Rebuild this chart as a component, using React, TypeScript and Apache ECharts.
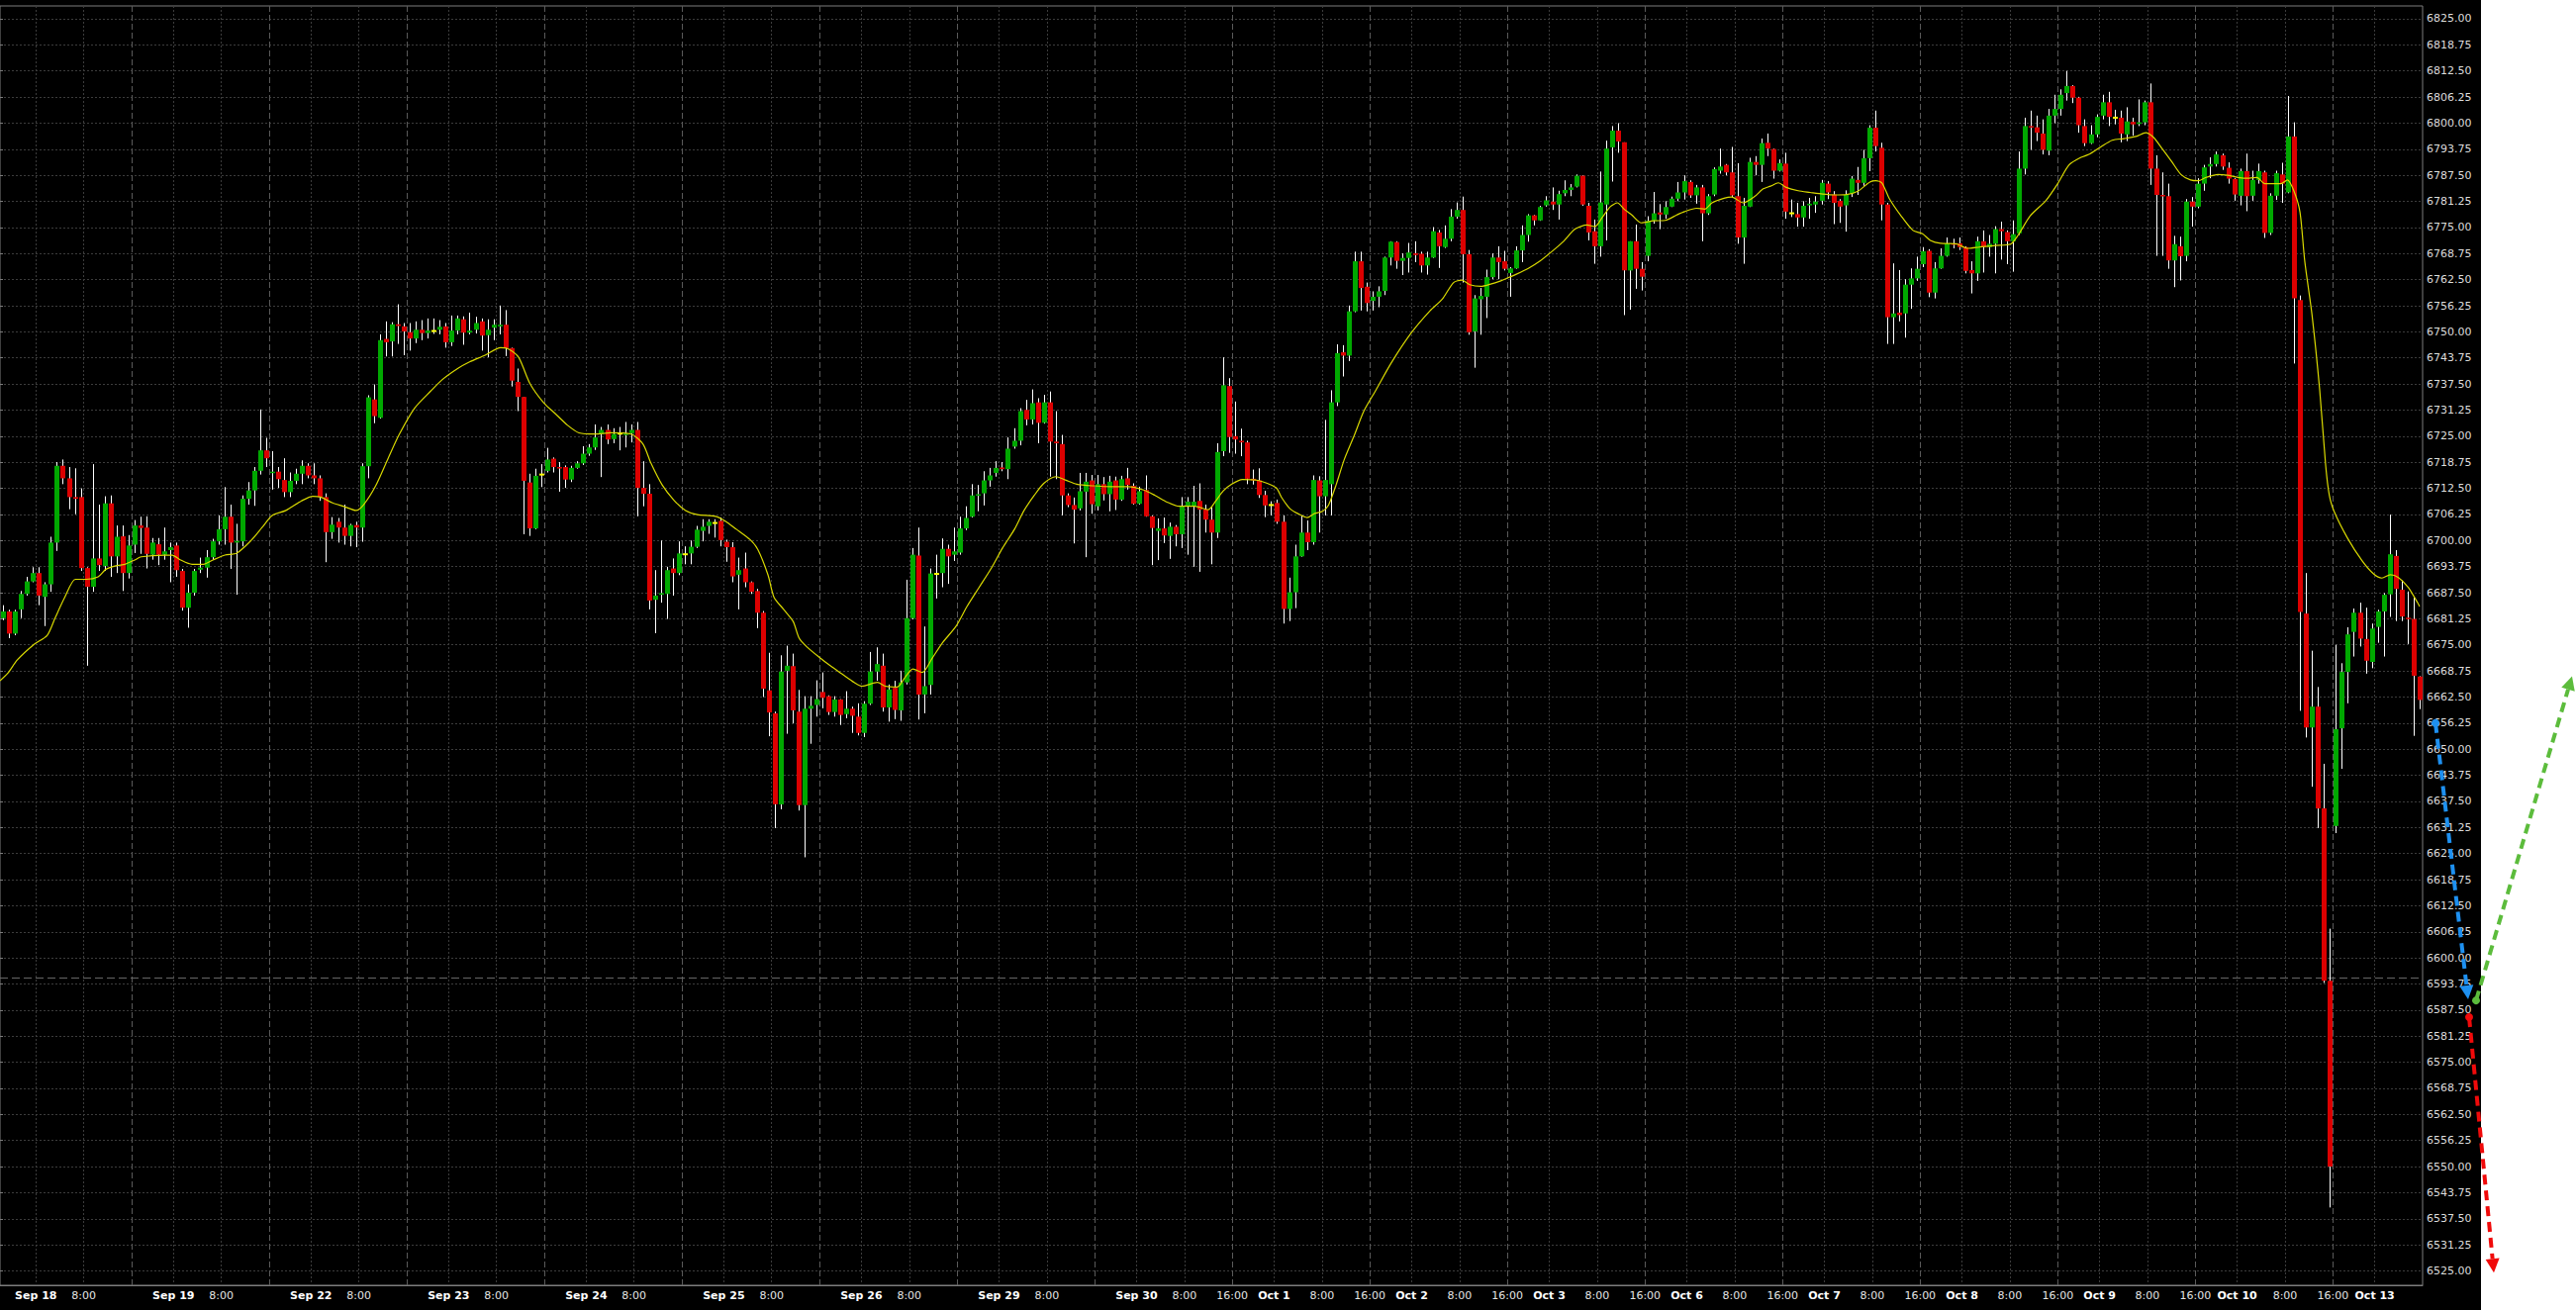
import React, { useEffect, useRef } from 'react';
import * as echarts from 'echarts';

// ---- categories: hourly bars of the ES session (17:00 -> 15:00, 23 bars per trading day)
const DAYS = ['Sep 18', 'Sep 19', 'Sep 22', 'Sep 23', 'Sep 24', 'Sep 25', 'Sep 26', 'Sep 29', 'Sep 30',
  'Oct 1', 'Oct 2', 'Oct 3', 'Oct 6', 'Oct 7', 'Oct 8', 'Oct 9', 'Oct 10', 'Oct 13'];
const SESSION_HOURS = [17, 18, 19, 20, 21, 22, 23, 0, 1, 2, 3, 4, 5, 6, 7, 8, 9, 10, 11, 12, 13, 14, 15];
const FIRST_BAR_SLOT = 1; // first bar on the chart is the 18:00 bar of the Sep 18 session
const SHOW_16_FROM = 'Sep 30';

// ---- OHLC values
const OPEN = [
  6681.4, 6683.0, 6677.7, 6683.5, 6687.2, 6690.2, 6692.2, 6686.5, 6689.5, 6699.5,
  6717.9, 6714.9, 6710.4, 6710.4, 6693.4, 6688.9, 6695.7, 6693.9, 6708.9, 6696.2,
  6701.0, 6692.2, 6699.0, 6703.6, 6703.1, 6696.6, 6699.1, 6696.6, 6697.7, 6698.8,
  6692.7, 6683.9, 6687.5, 6693.0, 6693.5, 6696.0, 6699.8, 6702.7, 6705.7, 6699.5,
  6699.8, 6710.0, 6712.0, 6716.7, 6721.6, 6716.2, 6716.5, 6714.5, 6711.6, 6714.3,
  6716.0, 6717.9, 6715.6, 6714.9, 6710.4, 6702.0, 6704.5, 6703.1, 6701.1, 6703.7,
  6703.1, 6717.8, 6733.8, 6729.4, 6748.3, 6747.7, 6751.8, 6751.3, 6749.9, 6748.4,
  6750.5, 6749.7, 6750.2, 6750.5, 6751.3, 6747.5, 6750.3, 6753.0, 6749.8, 6750.5,
  6752.5, 6749.2, 6751.0, 6751.3, 6751.7, 6746.1, 6738.0, 6734.4, 6713.9, 6702.9,
  6715.8, 6716.7, 6719.6, 6717.6, 6717.6, 6714.6, 6717.4, 6718.5, 6720.8, 6722.3,
  6725.6, 6726.5, 6724.3, 6725.6, 6725.4, 6725.7, 6726.5, 6712.6, 6711.2, 6685.8,
  6687.0, 6687.2, 6693.3, 6692.2, 6696.7, 6696.9, 6698.5, 6702.3, 6703.5, 6704.2,
  6704.7, 6699.7, 6698.4, 6691.8, 6693.3, 6690.0, 6687.9, 6682.7, 6664.1, 6658.6,
  6636.8, 6668.8, 6669.9, 6659.0, 6636.6, 6659.7, 6660.6, 6663.7, 6662.7, 6658.9,
  6661.9, 6658.4, 6659.7, 6657.8, 6653.9, 6660.9, 6668.6, 6670.0, 6660.0, 6664.7,
  6659.3, 6666.0, 6681.4, 6696.4, 6663.1, 6665.4, 6692.0, 6692.2, 6698.0, 6696.6,
  6697.1, 6702.9, 6705.7, 6710.8, 6711.3, 6714.4, 6716.2, 6717.5, 6717.1, 6722.5,
  6723.9, 6731.3, 6729.0, 6733.1, 6728.2, 6733.1, 6723.7, 6723.1, 6710.8, 6708.5,
  6707.7, 6711.7, 6714.4, 6708.2, 6713.5, 6711.1, 6714.4, 6709.8, 6714.9, 6713.1,
  6708.8, 6712.1, 6705.8, 6702.3, 6702.9, 6701.1, 6703.3, 6701.5, 6708.2, 6708.2,
  6709.5, 6707.4, 6705.0, 6701.9, 6721.4, 6737.0, 6725.0, 6723.9, 6723.5, 6714.8,
  6714.4, 6710.9, 6708.5, 6709.0, 6704.5, 6683.6, 6687.6, 6696.2, 6701.9, 6699.6,
  6714.4, 6710.6, 6713.5, 6733.1, 6745.1, 6744.3, 6754.9, 6766.9, 6760.8, 6757.4,
  6758.4, 6759.8, 6767.8, 6771.5, 6767.0, 6767.7, 6768.8, 6768.7, 6765.9, 6767.8,
  6773.8, 6770.3, 6772.3, 6777.6, 6779.2, 6768.6, 6750.1, 6757.8, 6758.4, 6763.1,
  6767.8, 6766.9, 6764.1, 6765.2, 6769.5, 6773.2, 6777.9, 6776.7, 6780.3, 6781.2,
  6780.5, 6783.2, 6784.0, 6784.8, 6787.4, 6780.2, 6774.1, 6770.5, 6780.5, 6794.2,
  6798.2, 6795.4, 6764.7, 6771.7, 6765.1, 6768.2, 6776.7, 6778.6, 6778.1, 6780.0,
  6781.9, 6783.4, 6785.9, 6782.7, 6784.6, 6778.4, 6782.9, 6788.6, 6790.0, 6788.2,
  6782.5, 6772.6, 6780.0, 6790.7, 6790.0, 6795.3, 6793.8, 6788.6, 6790.3, 6778.4,
  6778.2, 6777.4, 6780.3, 6780.5, 6781.4, 6785.5, 6782.9, 6781.4, 6780.3, 6783.2,
  6786.4, 6785.7, 6791.6, 6798.9, 6794.1, 6780.5, 6753.5, 6754.6, 6754.4, 6761.3,
  6762.8, 6766.2, 6769.4, 6759.4, 6765.2, 6768.2, 6771.2, 6771.2, 6770.3, 6764.8,
  6764.0, 6771.7, 6770.3, 6771.1, 6774.6, 6773.9, 6771.7, 6773.6, 6789.1, 6799.3,
  6799.0, 6797.5, 6793.4, 6801.8, 6803.4, 6807.2, 6808.9, 6806.1, 6799.3, 6795.2,
  6797.3, 6801.8, 6805.0, 6801.3, 6801.3, 6797.3, 6800.3, 6799.8, 6800.2, 6805.0,
  6789.1, 6782.8, 6782.5, 6767.1, 6770.5, 6768.2, 6781.2, 6780.0, 6785.5, 6789.6,
  6790.2, 6792.3, 6789.3, 6786.6, 6782.6, 6788.5, 6782.6, 6786.4, 6788.2, 6773.7,
  6782.6, 6787.7, 6783.4, 6796.8, 6757.6, 6682.5, 6655.2, 6660.2, 6635.8, 6594.5,
  6631.6, 6655.0, 6668.5, 6678.1, 6682.7, 6676.4, 6670.9, 6679.3, 6683.0, 6687.1,
  6696.3, 6688.2, 6681.5, 6681.2, 6667.4
];
const HIGH = [
  6684.5, 6683.4, 6683.4, 6687.9, 6691.3, 6693.6, 6693.6, 6690.0, 6700.9, 6718.8,
  6719.4, 6717.6, 6717.3, 6712.5, 6693.6, 6718.3, 6708.6, 6710.6, 6710.8, 6703.6,
  6703.6, 6701.3, 6704.9, 6705.7, 6705.8, 6700.6, 6700.6, 6703.1, 6699.5, 6699.5,
  6693.2, 6689.5, 6693.2, 6695.9, 6697.7, 6700.4, 6706.0, 6712.8, 6708.6, 6704.0,
  6710.8, 6714.0, 6717.6, 6731.4, 6724.6, 6721.4, 6717.6, 6719.7, 6716.3, 6717.2,
  6719.2, 6718.5, 6718.5, 6715.6, 6711.3, 6705.6, 6705.4, 6708.6, 6704.0, 6704.5,
  6718.5, 6734.8, 6737.4, 6749.4, 6752.5, 6752.3, 6756.6, 6752.1, 6752.1, 6752.5,
  6752.8, 6753.2, 6753.2, 6752.8, 6752.1, 6753.9, 6753.9, 6753.7, 6754.6, 6753.6,
  6753.2, 6753.0, 6753.0, 6756.3, 6755.2, 6746.2, 6741.2, 6734.4, 6716.0, 6717.2,
  6718.3, 6722.2, 6719.9, 6718.8, 6718.0, 6717.9, 6719.0, 6722.6, 6723.1, 6727.8,
  6727.2, 6727.8, 6726.9, 6727.2, 6728.4, 6727.8, 6728.4, 6719.0, 6713.5, 6692.9,
  6700.0, 6693.7, 6695.7, 6699.8, 6698.6, 6700.0, 6703.5, 6705.1, 6705.1, 6705.1,
  6705.5, 6700.2, 6699.6, 6695.9, 6697.1, 6690.2, 6688.4, 6683.1, 6673.1, 6659.0,
  6672.5, 6674.8, 6672.9, 6664.2, 6662.7, 6662.7, 6666.5, 6668.4, 6662.9, 6662.7,
  6662.0, 6663.9, 6660.2, 6661.0, 6661.5, 6673.3, 6674.4, 6672.9, 6665.5, 6666.4,
  6668.8, 6690.6, 6698.2, 6703.1, 6679.4, 6693.3, 6696.6, 6700.5, 6699.0, 6703.1,
  6705.7, 6708.2, 6713.5, 6713.3, 6716.6, 6717.4, 6719.0, 6718.8, 6724.7, 6726.9,
  6731.7, 6733.7, 6736.2, 6734.1, 6734.9, 6735.7, 6731.0, 6725.3, 6711.3, 6710.3,
  6716.2, 6716.2, 6715.7, 6715.7, 6715.2, 6715.5, 6715.3, 6715.5, 6717.4, 6713.7,
  6712.9, 6715.6, 6706.0, 6705.3, 6705.5, 6704.3, 6703.7, 6710.4, 6710.4, 6713.1,
  6713.7, 6708.6, 6708.0, 6723.3, 6743.9, 6738.9, 6733.3, 6726.8, 6723.9, 6717.0,
  6717.3, 6711.9, 6709.4, 6709.8, 6706.0, 6691.1, 6699.0, 6706.0, 6704.8, 6715.6,
  6715.4, 6728.9, 6736.0, 6747.0, 6746.8, 6756.3, 6769.2, 6769.2, 6761.8, 6759.7,
  6760.9, 6768.0, 6771.7, 6771.7, 6768.8, 6771.3, 6771.7, 6769.2, 6769.2, 6775.1,
  6774.4, 6775.5, 6779.4, 6781.0, 6782.4, 6769.6, 6758.8, 6760.5, 6764.9, 6768.8,
  6770.5, 6769.4, 6765.5, 6770.5, 6775.5, 6778.2, 6778.0, 6780.2, 6782.5, 6784.6,
  6783.8, 6786.3, 6785.4, 6787.7, 6787.5, 6780.9, 6776.9, 6788.4, 6795.8, 6799.3,
  6800.0, 6795.4, 6771.7, 6775.7, 6766.7, 6777.7, 6783.5, 6780.6, 6781.3, 6782.4,
  6785.9, 6787.5, 6786.3, 6785.2, 6785.2, 6783.0, 6789.4, 6793.9, 6790.2, 6794.3,
  6790.4, 6782.1, 6791.7, 6792.1, 6796.3, 6797.5, 6793.9, 6791.3, 6792.9, 6781.7,
  6780.9, 6781.3, 6782.1, 6782.5, 6786.4, 6786.1, 6783.7, 6781.8, 6783.9, 6787.3,
  6789.5, 6793.6, 6799.5, 6803.0, 6795.3, 6780.9, 6766.4, 6764.8, 6762.6, 6765.2,
  6768.0, 6770.3, 6769.8, 6766.7, 6770.0, 6772.6, 6772.3, 6772.6, 6770.5, 6766.9,
  6772.8, 6774.3, 6773.2, 6775.3, 6776.4, 6774.3, 6776.7, 6793.2, 6801.3, 6803.0,
  6801.8, 6800.9, 6803.4, 6806.8, 6808.1, 6812.5, 6809.1, 6806.3, 6800.9, 6799.5,
  6802.1, 6806.8, 6807.5, 6803.2, 6803.0, 6803.8, 6801.3, 6805.7, 6805.4, 6809.5,
  6792.3, 6788.2, 6785.5, 6773.0, 6772.8, 6781.8, 6782.3, 6786.8, 6790.0, 6791.8,
  6793.2, 6792.7, 6790.6, 6786.8, 6789.1, 6792.7, 6788.6, 6790.3, 6788.6, 6783.2,
  6788.6, 6790.5, 6806.5, 6800.2, 6758.7, 6692.2, 6673.6, 6664.9, 6646.5, 6607.0,
  6675.0, 6670.6, 6679.2, 6683.7, 6685.1, 6683.9, 6680.1, 6683.4, 6687.4, 6706.2,
  6697.7, 6690.4, 6687.8, 6686.3, 6667.5
];
const LOW = [
  6680.9, 6676.6, 6677.3, 6681.4, 6686.8, 6690.0, 6684.5, 6679.5, 6687.7, 6697.5,
  6713.5, 6707.5, 6706.3, 6692.7, 6670.0, 6687.7, 6692.7, 6692.7, 6691.3, 6692.2,
  6687.9, 6690.9, 6697.0, 6696.8, 6693.3, 6695.4, 6694.1, 6695.4, 6690.0, 6691.3,
  6683.2, 6679.1, 6686.8, 6692.2, 6691.1, 6695.4, 6699.0, 6699.0, 6693.2, 6687.0,
  6698.6, 6708.6, 6708.3, 6715.8, 6717.6, 6712.2, 6712.6, 6710.4, 6710.4, 6713.5,
  6713.5, 6714.9, 6713.5, 6709.5, 6694.8, 6700.4, 6699.5, 6699.0, 6698.6, 6698.4,
  6699.7, 6714.9, 6728.1, 6729.2, 6744.1, 6744.1, 6747.1, 6744.4, 6745.5, 6747.3,
  6748.0, 6748.4, 6749.5, 6749.4, 6746.2, 6746.6, 6749.4, 6746.9, 6749.4, 6749.6,
  6745.5, 6743.9, 6748.0, 6749.4, 6744.2, 6736.9, 6731.0, 6701.5, 6701.1, 6702.7,
  6712.8, 6716.3, 6716.3, 6711.7, 6712.6, 6714.0, 6717.2, 6718.1, 6720.3, 6721.7,
  6715.2, 6723.1, 6723.3, 6721.6, 6722.3, 6723.5, 6705.8, 6708.2, 6683.5, 6677.8,
  6685.1, 6681.2, 6686.8, 6691.7, 6694.3, 6694.3, 6698.2, 6699.8, 6701.6, 6700.7,
  6698.6, 6694.9, 6690.0, 6683.5, 6688.8, 6687.2, 6679.0, 6662.5, 6653.1, 6631.1,
  6635.6, 6653.7, 6656.2, 6635.3, 6624.1, 6651.3, 6657.8, 6659.8, 6658.2, 6657.8,
  6655.8, 6657.4, 6653.9, 6653.3, 6652.9, 6660.6, 6666.4, 6659.0, 6656.6, 6657.2,
  6656.8, 6665.5, 6681.1, 6657.1, 6658.6, 6663.1, 6686.1, 6688.8, 6689.6, 6695.1,
  6696.6, 6702.5, 6705.5, 6707.0, 6708.4, 6712.9, 6715.3, 6716.6, 6714.7, 6722.0,
  6722.8, 6727.6, 6727.8, 6723.3, 6728.0, 6715.3, 6714.7, 6706.0, 6708.0, 6699.3,
  6707.2, 6696.0, 6706.4, 6707.2, 6709.6, 6707.0, 6707.3, 6709.5, 6712.2, 6708.6,
  6708.6, 6705.7, 6694.1, 6695.3, 6699.4, 6695.6, 6698.6, 6698.2, 6696.6, 6693.7,
  6692.5, 6701.9, 6694.3, 6700.6, 6720.2, 6721.0, 6720.8, 6720.2, 6713.5, 6713.4,
  6710.2, 6705.6, 6706.0, 6704.0, 6680.1, 6680.7, 6683.8, 6696.1, 6697.7, 6699.0,
  6701.9, 6706.0, 6706.0, 6732.2, 6739.3, 6743.0, 6754.7, 6755.1, 6754.9, 6755.1,
  6755.9, 6758.8, 6765.9, 6765.1, 6763.6, 6764.2, 6766.7, 6764.2, 6763.7, 6767.7,
  6765.3, 6770.1, 6771.7, 6777.1, 6761.8, 6749.3, 6741.4, 6749.3, 6753.3, 6762.6,
  6762.6, 6764.7, 6758.4, 6765.1, 6766.7, 6771.6, 6775.5, 6776.6, 6780.0, 6779.2,
  6776.9, 6782.5, 6782.5, 6784.6, 6780.2, 6771.9, 6766.3, 6768.0, 6771.9, 6786.0,
  6792.9, 6754.0, 6755.3, 6760.3, 6759.9, 6766.9, 6775.9, 6774.6, 6777.1, 6779.9,
  6781.3, 6781.7, 6782.1, 6780.7, 6771.7, 6778.0, 6782.5, 6787.9, 6787.5, 6782.3,
  6771.1, 6766.3, 6779.9, 6787.5, 6785.9, 6792.1, 6786.7, 6788.4, 6777.1, 6777.5,
  6775.2, 6775.2, 6777.1, 6778.5, 6780.5, 6781.8, 6775.8, 6776.1, 6774.0, 6782.3,
  6782.8, 6785.0, 6788.5, 6793.2, 6776.7, 6747.1, 6747.1, 6752.5, 6748.6, 6755.5,
  6762.2, 6765.5, 6758.3, 6758.0, 6765.1, 6768.0, 6770.0, 6769.6, 6764.0, 6759.2,
  6762.2, 6764.2, 6768.0, 6764.0, 6767.3, 6766.2, 6764.4, 6773.2, 6787.7, 6793.6,
  6795.7, 6792.5, 6792.3, 6800.0, 6801.8, 6805.4, 6804.8, 6797.7, 6794.5, 6795.0,
  6796.6, 6800.9, 6799.3, 6799.7, 6795.4, 6795.7, 6797.0, 6799.3, 6799.5, 6785.2,
  6768.2, 6768.2, 6765.1, 6760.7, 6762.3, 6766.9, 6775.2, 6779.6, 6783.8, 6786.8,
  6789.6, 6788.8, 6785.5, 6781.4, 6780.3, 6778.9, 6781.4, 6785.5, 6772.5, 6773.2,
  6781.6, 6780.9, 6783.2, 6742.4, 6659.2, 6652.8, 6641.0, 6631.1, 6594.0, 6540.2,
  6629.9, 6645.3, 6661.0, 6672.2, 6674.6, 6668.1, 6669.4, 6675.5, 6672.2, 6681.7,
  6680.7, 6680.7, 6675.2, 6653.2, 6659.6
];
const CLOSE = [
  6683.0, 6677.7, 6683.0, 6687.2, 6690.2, 6692.2, 6686.8, 6689.5, 6699.5, 6717.9,
  6714.9, 6710.4, 6710.0, 6693.4, 6688.9, 6695.7, 6694.1, 6708.9, 6696.2, 6700.9,
  6692.2, 6698.8, 6703.6, 6703.0, 6696.8, 6699.5, 6696.6, 6697.4, 6698.4, 6692.9,
  6683.9, 6687.5, 6692.7, 6693.5, 6696.0, 6699.8, 6702.7, 6705.7, 6699.5, 6699.9,
  6710.0, 6712.0, 6716.7, 6721.6, 6719.7, 6716.5, 6714.7, 6711.6, 6714.3, 6716.0,
  6717.9, 6715.6, 6714.9, 6710.4, 6702.0, 6703.8, 6703.1, 6701.1, 6703.7, 6703.1,
  6717.8, 6734.3, 6729.8, 6748.0, 6747.5, 6751.8, 6751.4, 6750.1, 6748.4, 6750.5,
  6749.7, 6750.3, 6750.2, 6751.2, 6747.5, 6750.3, 6753.2, 6749.8, 6750.3, 6752.1,
  6749.1, 6750.5, 6751.7, 6751.7, 6746.1, 6738.3, 6734.4, 6714.3, 6702.9, 6715.5,
  6715.8, 6719.4, 6717.6, 6717.4, 6714.6, 6717.4, 6718.5, 6720.8, 6722.3, 6724.7,
  6726.5, 6724.2, 6725.5, 6725.6, 6725.6, 6726.5, 6712.6, 6711.2, 6685.6, 6686.8,
  6687.4, 6692.9, 6692.2, 6696.9, 6696.7, 6698.5, 6702.6, 6703.3, 6704.5, 6704.2,
  6700.1, 6698.4, 6691.4, 6692.9, 6690.0, 6687.7, 6682.7, 6664.5, 6658.8, 6636.8,
  6668.6, 6670.0, 6659.3, 6636.6, 6659.7, 6660.4, 6662.0, 6662.3, 6658.9, 6661.9,
  6658.2, 6659.7, 6658.0, 6653.9, 6660.9, 6668.6, 6670.4, 6660.0, 6664.3, 6659.4,
  6666.0, 6681.4, 6696.6, 6663.1, 6665.1, 6692.1, 6692.0, 6698.0, 6696.2, 6697.4,
  6702.9, 6705.4, 6710.8, 6711.1, 6714.4, 6715.6, 6717.4, 6717.1, 6722.0, 6723.9,
  6731.0, 6729.0, 6732.9, 6728.2, 6733.1, 6723.7, 6723.3, 6710.8, 6708.5, 6707.4,
  6711.8, 6714.1, 6708.7, 6713.5, 6711.1, 6714.1, 6709.8, 6714.7, 6713.3, 6708.8,
  6711.8, 6705.8, 6703.0, 6702.9, 6701.2, 6703.3, 6701.5, 6708.2, 6709.3, 6709.3,
  6707.4, 6705.0, 6701.9, 6721.2, 6737.2, 6724.8, 6724.2, 6723.5, 6714.8, 6714.4,
  6710.9, 6708.4, 6708.5, 6704.5, 6683.6, 6687.6, 6696.2, 6701.9, 6699.6, 6714.5,
  6710.6, 6714.5, 6733.1, 6744.9, 6744.3, 6754.9, 6766.9, 6760.5, 6756.9, 6758.4,
  6759.7, 6767.8, 6771.6, 6767.0, 6767.7, 6769.0, 6768.4, 6765.9, 6767.8, 6774.1,
  6770.5, 6772.3, 6777.6, 6779.2, 6768.6, 6749.9, 6758.0, 6758.6, 6763.1, 6767.8,
  6766.7, 6765.1, 6765.2, 6769.5, 6773.2, 6777.9, 6776.7, 6779.9, 6781.5, 6780.5,
  6783.0, 6784.0, 6784.6, 6787.4, 6780.5, 6773.8, 6770.5, 6781.0, 6793.9, 6798.2,
  6795.6, 6764.7, 6771.7, 6765.1, 6763.2, 6776.6, 6778.4, 6778.1, 6779.9, 6781.9,
  6783.4, 6786.1, 6782.7, 6784.6, 6778.4, 6782.5, 6789.0, 6789.6, 6788.2, 6782.7,
  6772.6, 6780.2, 6790.7, 6790.0, 6795.2, 6793.9, 6788.6, 6790.4, 6778.8, 6778.4,
  6777.4, 6780.2, 6780.7, 6781.2, 6785.7, 6783.4, 6780.9, 6780.0, 6782.8, 6786.7,
  6785.7, 6791.6, 6798.9, 6794.5, 6780.5, 6753.5, 6754.4, 6754.0, 6761.3, 6762.8,
  6765.1, 6769.3, 6759.4, 6765.2, 6768.2, 6771.2, 6770.9, 6770.3, 6764.6, 6764.0,
  6771.7, 6770.3, 6771.1, 6774.6, 6774.1, 6771.7, 6773.4, 6789.1, 6799.3, 6799.0,
  6797.7, 6793.6, 6801.8, 6803.4, 6806.8, 6808.9, 6806.1, 6799.5, 6795.2, 6797.3,
  6801.5, 6805.0, 6801.5, 6801.3, 6797.5, 6800.4, 6799.7, 6800.2, 6805.0, 6789.1,
  6782.8, 6782.5, 6767.1, 6771.0, 6768.1, 6781.2, 6780.0, 6785.5, 6789.4, 6790.2,
  6792.5, 6789.6, 6786.7, 6782.9, 6788.5, 6782.5, 6786.4, 6788.5, 6773.7, 6782.6,
  6788.0, 6785.5, 6796.8, 6758.0, 6682.9, 6655.2, 6660.2, 6635.8, 6594.5, 6550.0,
  6654.8, 6668.5, 6677.5, 6682.7, 6676.5, 6671.2, 6678.9, 6683.0, 6687.0, 6696.7,
  6688.4, 6681.8, 6681.2, 6667.6, 6661.8
];

// ---- moving average: [bar index, value]
const MA_POINTS = [
  [-0.5, 6666.4], [0.8, 6668.2], [2.4, 6671.4], [5.1, 6675.0], [7.4, 6677.3], [8.7, 6681.4], [10.3, 6686.3],
  [12.1, 6690.7], [13.9, 6690.7], [15.9, 6691.3], [17.2, 6693.1], [19.1, 6694.0], [20.4, 6694.3], [22.1, 6695.4],
  [23.1, 6696.1], [27, 6696.5], [28.3, 6696.5], [29.6, 6695.4], [31.6, 6694.3], [33.5, 6694.3], [35.2, 6695.4],
  [37.1, 6696.5], [39.1, 6697.0], [41.4, 6699.9], [43.3, 6703.1], [45, 6706.0], [47.3, 6707.2], [49.9, 6709.5],
  [51.8, 6710.6], [53.1, 6710.4], [55.1, 6709.0], [57.1, 6708.1], [59, 6707.2], [60.3, 6708.6], [62.3, 6713.1],
  [64.3, 6719.4], [66.2, 6725.3], [68.8, 6731.7], [71.5, 6735.8], [73.4, 6738.5], [76, 6741.2], [78, 6742.8],
  [80.6, 6744.4], [83.2, 6746.2], [84.5, 6745.9], [86.2, 6743.9], [88.1, 6737.6], [90.4, 6733.0], [92.4, 6730.3],
  [94.4, 6727.6], [96.3, 6725.8], [99, 6725.5], [101.6, 6725.8], [105, 6725.5], [107, 6723.1], [108.3, 6718.6],
  [110.2, 6713.3], [112.2, 6709.6], [114.1, 6707.2], [116.1, 6706.2], [119.1, 6705.8], [120.7, 6704.7],
  [122.6, 6702.7], [124.9, 6700.2], [126.2, 6697.8], [127.9, 6691.7], [128.9, 6686.4], [130.5, 6683.5],
  [132.1, 6680.6], [133.1, 6676.6], [134.4, 6674.5], [136.4, 6672.1], [138.3, 6670.0], [140.3, 6668.0],
  [142.3, 6666.0], [143.6, 6665.1], [146.2, 6666.0], [147.5, 6665.1], [149.5, 6664.9], [150.8, 6667.2],
  [152.1, 6669.2], [153.7, 6668.4], [155.3, 6671.7], [157, 6675.4], [159.3, 6679.4], [161.2, 6684.3],
  [163.2, 6688.8], [165.2, 6693.3], [167.1, 6698.2], [169.1, 6702.7], [170.7, 6707.2], [172.4, 6710.8],
  [174, 6713.7], [176, 6715.3], [177.6, 6714.5], [179.5, 6713.5], [182.2, 6713.1], [185.4, 6712.9],
  [188.1, 6712.9], [190.7, 6712.1], [192.6, 6710.8], [194.6, 6709.2], [196.6, 6708.2], [199.2, 6708.2],
  [201.5, 6707.4], [202.7, 6709.4], [204, 6711.9], [205.3, 6713.4], [207.2, 6714.6], [209.8, 6714.4],
  [212.8, 6712.7], [213.8, 6710.2], [215.1, 6707.7], [216.4, 6706.5], [218, 6705.5], [219.3, 6706.5],
  [220.6, 6707.0], [221.6, 6708.5], [222.9, 6713.5], [224.2, 6719.3], [225.9, 6725.2], [227.5, 6731.0],
  [229.5, 6736.0], [232.1, 6742.6], [235.4, 6749.7], [238.6, 6755.1], [240.6, 6757.8], [242.5, 6761.8],
  [243.9, 6762.4], [245.2, 6761.3], [247.1, 6760.9], [248.4, 6761.3], [250.4, 6762.2], [251.7, 6763.0],
  [253, 6763.8], [255, 6765.2], [256.9, 6766.9], [258.9, 6769.2], [260.9, 6771.7], [262.8, 6774.6],
  [264.8, 6775.6], [266.1, 6775.2], [267.4, 6777.5], [268.7, 6780.0], [269.9, 6780.9], [271, 6779.4],
  [272.3, 6778.0], [273.9, 6776.1], [275.9, 6776.6], [277.9, 6776.7], [279.8, 6778.0], [281.1, 6778.8],
  [283.1, 6779.6], [284.5, 6779.4], [285.7, 6780.9], [287.7, 6782.0], [289, 6782.3], [290.9, 6780.9],
  [292.9, 6782.5], [294.2, 6784.2], [295.5, 6784.9], [296.8, 6785.7], [298.1, 6784.6], [300.1, 6783.8],
  [302.1, 6783.4], [304.2, 6783.0], [306.2, 6782.8], [308.2, 6782.9], [310.1, 6783.7], [312.1, 6785.9],
  [313.1, 6786.2], [314.1, 6785.7], [315.4, 6781.8], [317.3, 6777.8], [319.3, 6774.3], [320.9, 6773.5],
  [322.2, 6771.9], [323.9, 6771.2], [326.5, 6771.1], [328.4, 6770.0], [330.4, 6770.3], [333, 6770.7],
  [335.6, 6771.0], [336.9, 6773.2], [338.9, 6777.8], [341.5, 6781.4], [343.5, 6785.5], [345.4, 6790.0],
  [347.4, 6791.8], [348.7, 6792.5], [350.7, 6794.3], [352.6, 6795.9], [354.6, 6796.3], [356.6, 6796.8],
  [358.2, 6797.7], [359.5, 6796.6], [361.1, 6793.6], [362.5, 6790.9], [364.1, 6787.7], [365.7, 6786.4],
  [367, 6786.2], [368.3, 6787.0], [370.3, 6787.7], [371.9, 6787.5], [373.6, 6787.0], [375.5, 6786.8],
  [376.8, 6787.0], [378.1, 6785.5], [380.8, 6785.5], [381.9, 6786.4], [383, 6783.7], [384, 6778.7],
  [384.8, 6766.9], [386, 6754.2], [387.3, 6736.0], [388.3, 6717.9], [388.9, 6710.9], [389.7, 6707.0],
  [391.9, 6700.7], [394.4, 6695.1], [396.3, 6692.0], [397.7, 6691.0], [399.1, 6691.8], [400.4, 6691.2],
  [402.1, 6688.8], [403.7, 6685.0], [404, 6684.2]
];

// ---- price axis
const PRICE_TICKS = [6525, 6531.25, 6537.5, 6543.75, 6550, 6556.25, 6562.5, 6568.75, 6575, 6581.25, 6587.5,
  6593.75, 6600, 6606.25, 6612.5, 6618.75, 6625, 6631.25, 6637.5, 6643.75, 6650, 6656.25, 6662.5, 6668.75,
  6675, 6681.25, 6687.5, 6693.75, 6700, 6706.25, 6712.5, 6718.75, 6725, 6731.25, 6737.5, 6743.75, 6750,
  6756.25, 6762.5, 6768.75, 6775, 6781.25, 6787.5, 6793.75, 6800, 6806.25, 6812.5, 6818.75, 6825];
const Y_MIN = 6521.56;
const Y_MAX = 6828.08;
const REF_LEVEL = 6595.2;

// ---- forecast arrows (price levels; x in px)
const ARROWS = [
  { color: '#1e90f0', x1: 2461, from: 6656.25, x2: 2494, to: 6590.1 },
  { color: '#5cbc3c', x1: 2502, from: 6589.8, x2: 2599, to: 6667.5 },
  { color: '#f00a0a', x1: 2495, from: 6585.8, x2: 2520, to: 6524.6 },
];

const GREEN = '#00a800';
const RED = '#dc0000';
const DOJI = '#ffff00';
const FONT = 'DejaVu Sans';

export default function App() {
  const ref = useRef<HTMLDivElement>(null);
  useEffect(() => {
    if (!ref.current) return;
    const chart = echarts.init(ref.current, null, { renderer: 'svg' });
    const N = OPEN.length;

    // axis labels and grid lines from the hourly structure
    const labelPos: number[] = [];
    const labelText: string[] = [];
    const dotPos: number[] = [];
    const dashPos: number[] = [];
    const show16 = DAYS.indexOf(SHOW_16_FROM);
    for (let k = 0; k < N; k++) {
      const slot = (k + FIRST_BAR_SLOT) % SESSION_HOURS.length;
      const day = Math.floor((k + FIRST_BAR_SLOT) / SESSION_HOURS.length);
      const hr = SESSION_HOURS[slot];
      if (hr === 0) { labelPos.push(k); labelText.push('{d|' + DAYS[day] + '}'); dotPos.push(k); }
      else if (hr === 8) { labelPos.push(k); labelText.push('{t|8:00}'); dotPos.push(k); }
      else if (hr === 17 && k > 0) {
        dashPos.push(k);
        if (day - 1 >= show16) { labelPos.push(k); labelText.push('{t|16:00}'); }
      }
    }

    const candles = OPEN.map((o, i) => [i + 0.5, o, CLOSE[i], LOW[i], HIGH[i]]);

    const renderItem = (params: any, api: any) => {
      const x = api.value(0);
      const o = api.value(1), c = api.value(2), l = api.value(3), h = api.value(4);
      const pO = api.coord([x, o]);
      const pC = api.coord([x, c]);
      const pL = api.coord([x, l]);
      const pH = api.coord([x, h]);
      const cx = Math.round(pO[0]);
      const top = Math.min(pO[1], pC[1]);
      const bot = Math.max(pO[1], pC[1]);
      const isDoji = o === c;
      const color = isDoji ? DOJI : c > o ? GREEN : RED;
      const hgt = Math.max(bot - top, isDoji ? 2 : 1.5);
      return {
        type: 'group',
        children: [
          { type: 'line', shape: { x1: cx + 0.5, y1: pH[1], x2: cx + 0.5, y2: pL[1] }, style: { stroke: '#ffffff', lineWidth: 1 } },
          { type: 'rect', shape: { x: cx - 2, y: isDoji ? top - 1 : top, width: 5, height: hgt }, style: { fill: color } },
        ],
      };
    };

    const hiddenX = (vals: number[], ls: any) => ({
      type: 'value', min: 0, max: N, gridIndex: 0,
      axisLine: { show: false }, axisLabel: { show: false },
      axisTick: { show: false, customValues: vals },
      splitLine: { show: true, lineStyle: ls },
    });

    chart.setOption({
      animation: false,
      backgroundColor: 'transparent',
      textStyle: { fontFamily: FONT },
      grid: {
        left: 0, top: 6, width: 2448, height: 1293, show: true,
        borderColor: '#7c7c7c', borderWidth: 1, backgroundColor: 'transparent', containLabel: false,
        outerBoundsMode: 'none',
      },
      xAxis: [
        {
          type: 'value', min: 0, max: N, position: 'bottom',
          axisLine: { show: true, lineStyle: { color: '#7c7c7c' } },
          axisTick: { show: false, customValues: labelPos },
          splitLine: { show: false },
          axisLabel: {
            customValues: labelPos,
            margin: 5,
            formatter: (v: number) => { const i = labelPos.indexOf(v); return i >= 0 ? labelText[i] : ''; },
            rich: {
              d: { color: '#ffffff', fontWeight: 'bold', fontSize: 11, fontFamily: FONT },
              t: { color: '#e4e4e4', fontSize: 11, fontFamily: FONT },
            },
          },
        },
        hiddenX(dotPos, { color: '#3c3c3c', type: [2, 2], width: 1 }),
        hiddenX(dashPos, { color: '#5a5a5a', type: [6, 3], width: 1 }),
      ],
      yAxis: {
        type: 'value', position: 'right', min: Y_MIN, max: Y_MAX, scale: true,
        axisLine: { show: false },
        axisTick: { show: true, length: 3, inside: false, lineStyle: { color: '#7c7c7c' }, customValues: PRICE_TICKS },
        axisLabel: {
          customValues: PRICE_TICKS, color: '#dedede', fontSize: 11, fontFamily: FONT, margin: 4,
          formatter: (v: number) => v.toFixed(2),
        },
        splitLine: { show: true, lineStyle: { color: '#3c3c3c', type: [2, 2], width: 1 } },
      },
      series: [
        {
          type: 'custom', name: 'price', xAxisIndex: 0, yAxisIndex: 0, data: candles,
          encode: { x: 0, y: [1, 2, 3, 4] }, renderItem, clip: true, z: 3,
        },
        {
          type: 'line', name: 'MA', xAxisIndex: 0, yAxisIndex: 0,
          data: MA_POINTS.map(p => [p[0] + 0.5, p[1]]),
          symbol: 'none', showSymbol: false, smooth: 0.25,
          lineStyle: { color: '#d9d900', width: 1.2 }, z: 4, silent: true,
          markLine: {
            silent: true, symbol: 'none', z: 2, animation: false,
            label: { show: false },
            lineStyle: { color: '#666666', type: [8, 4], width: 1 },
            data: [{ yAxis: REF_LEVEL }],
          },
        },
      ],
    });

    const yPix = (v: number) => chart.convertToPixel({ yAxisIndex: 0 } as any, v) as number;
    const elements: any[] = [];
    ARROWS.forEach(a => {
      const y1 = yPix(a.from);
      const y2 = yPix(a.to);
      const dx = a.x2 - a.x1, dy = y2 - y1;
      const len = Math.hypot(dx, dy);
      const ux = dx / len, uy = dy / len;
      const headLen = 14, headW = 7;
      const bx = a.x2 - ux * headLen, by = y2 - uy * headLen;
      elements.push({ type: 'line', z: 100, shape: { x1: a.x1, y1, x2: bx, y2: by }, style: { stroke: a.color, lineWidth: 4, lineDash: [10, 6] } });
      elements.push({ type: 'circle', z: 101, shape: { cx: a.x1, cy: y1, r: 4 }, style: { fill: a.color } });
      elements.push({
        type: 'polygon', z: 101,
        shape: { points: [[a.x2, y2], [bx - uy * headW, by + ux * headW], [bx + uy * headW, by - ux * headW]] },
        style: { fill: a.color },
      });
    });
    chart.setOption({ graphic: { elements } });

    return () => chart.dispose();
  }, []);

  return (
    <div style={{ position: 'absolute', left: 0, top: 0, width: 2603, height: 1324, background: '#ffffff', overflow: 'hidden' }}>
      <div style={{ position: 'absolute', left: 0, top: 0, width: 2507, height: 1324, background: '#000000' }} />
      <div ref={ref} style={{ position: 'absolute', left: 0, top: 0, width: 2603, height: 1324 }} />
    </div>
  );
}
